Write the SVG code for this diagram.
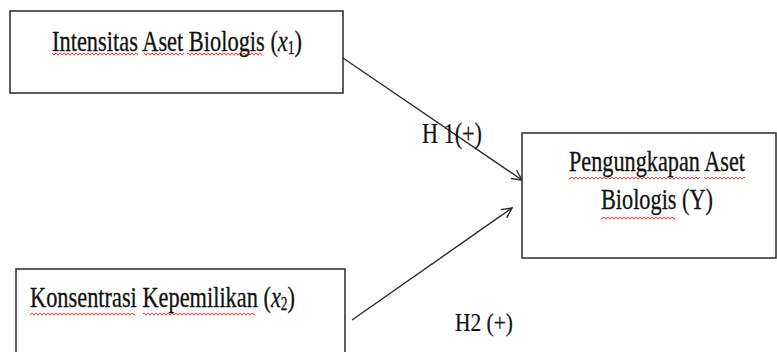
<svg xmlns="http://www.w3.org/2000/svg" width="777" height="352" viewBox="0 0 777 352">
  <defs>
    <style>
      .box { fill: #ffffff; stroke: #2b2b2b; stroke-width: 1.5; }
      .lbl { font-family: "Liberation Serif", "Times New Roman", serif; font-size: 30px; fill: #111111; stroke: #111111; stroke-width: 0.3; }
      .hyp { font-family: "Liberation Serif", "Times New Roman", serif; fill: #111111; stroke: #111111; stroke-width: 0.2; }
      .conn { fill: none; stroke: #2b2b2b; stroke-width: 1.4; }
      .sq { fill: url(#squiggle); }
    </style>
    <marker id="arrow" viewBox="0 0 12 12" refX="11" refY="6" markerWidth="12" markerHeight="12" markerUnits="userSpaceOnUse" orient="auto">
      <path d="M1,1 L11,6 L1,11" fill="none" stroke="#2b2b2b" stroke-width="1.4"/>
    </marker>
    <pattern id="squiggle" width="4" height="4" patternUnits="userSpaceOnUse">
      <path d="M0,0.8 L2,3.2 L4,0.8" fill="none" stroke="#ff2a2a" stroke-width="1"/>
    </pattern>
  </defs>
  <rect width="777" height="352" fill="#ffffff"/>

  <g id="connectors">
    <line class="conn" x1="343" y1="58" x2="522" y2="180" marker-end="url(#arrow)"/>
    <line class="conn" x1="352" y1="320" x2="512" y2="208" marker-end="url(#arrow)"/>
    <text class="hyp" x="422" y="143" font-size="30" textLength="60" lengthAdjust="spacingAndGlyphs">H 1(+)</text>
    <text class="hyp" x="455" y="331" font-size="25" textLength="58" lengthAdjust="spacingAndGlyphs">H2 (+)</text>
  </g>

  <g id="node-x1">
    <rect class="box" x="10" y="11" width="333" height="82"/>
    <rect class="sq" x="52" y="52" width="86" height="4"/>
    <rect class="sq" x="144" y="52" width="40" height="4"/>
    <rect class="sq" x="187" y="52" width="75" height="4"/>
    <text class="lbl" x="52" y="51" textLength="250" lengthAdjust="spacingAndGlyphs">Intensitas Aset Biologis (<tspan font-style="italic">x</tspan><tspan font-size="18" dy="3">1</tspan><tspan dy="-3">)</tspan></text>
  </g>

  <g id="node-x2">
    <rect class="box" x="16" y="269" width="329" height="100"/>
    <rect class="sq" x="30" y="312" width="105" height="4"/>
    <rect class="sq" x="143" y="312" width="112" height="4"/>
    <text class="lbl" x="30" y="307" textLength="265" lengthAdjust="spacingAndGlyphs">Konsentrasi Kepemilikan (<tspan font-style="italic">x</tspan><tspan font-size="18" dy="3">2</tspan><tspan dy="-3">)</tspan></text>
  </g>

  <g id="node-y">
    <rect class="box" x="522" y="133" width="254" height="125"/>
    <rect class="sq" x="569" y="176" width="131" height="4"/>
    <rect class="sq" x="704" y="176" width="41" height="4"/>
    <rect class="sq" x="601" y="216" width="74" height="4"/>
    <text class="lbl" x="569" y="171" textLength="176" lengthAdjust="spacingAndGlyphs">Pengungkapan Aset</text>
    <text class="lbl" x="601" y="209" textLength="112" lengthAdjust="spacingAndGlyphs">Biologis (Y)</text>
  </g>
</svg>
